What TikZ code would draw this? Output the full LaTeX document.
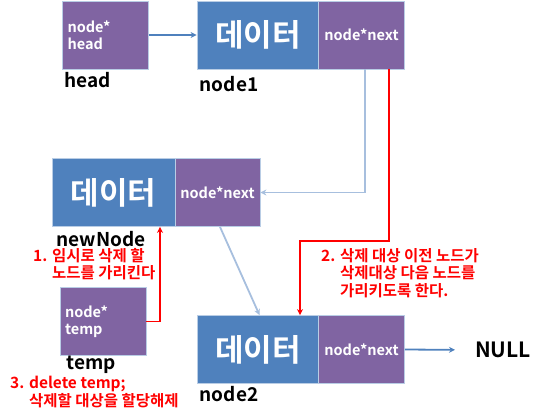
\documentclass[tikz,border=0pt]{standalone}
\usepackage{fontspec}
\setmainfont{Noto Sans CJK KR}[BoldFont={Noto Sans CJK KR Bold}]
\usetikzlibrary{arrows.meta}
\definecolor{dblue}{HTML}{4F81BD}
\definecolor{dpurple}{HTML}{8064A2}
\definecolor{lblue}{HTML}{A7BFDE}
\definecolor{edgec}{HTML}{B9CDE5}
\begin{document}
\begin{tikzpicture}[x=1pt,y=-1pt,
  databox/.style={fill=dblue,draw=edgec,line width=0.8pt,minimum height=68,inner sep=0,
    text=white,font=\bfseries\fontsize{31}{31}\selectfont},
  ptrbox/.style={fill=dpurple,draw=edgec,line width=0.8pt,minimum height=68,inner sep=0,
    text=white,font=\bfseries\fontsize{14.5}{17}\selectfont},
  varbox/.style={ptrbox,minimum width=86,text width=76,align=left},
  lbl/.style={font=\bfseries\fontsize{19}{19}\selectfont,inner sep=0},
  note/.style={text=red,font=\bfseries\fontsize{15.5}{17.5}\selectfont,align=left,inner sep=0,anchor=north west},
  bluearrow/.style={draw=dblue,line width=1.8pt,-{Stealth[length=6pt,width=6pt]}},
  lightline/.style={draw=lblue,line width=1.8pt,-{Stealth[length=6pt,width=6pt]}},
  redline/.style={draw=red,line width=1.8pt,-{Stealth[length=6pt,width=6pt]}}]
\useasboundingbox (0,0) rectangle (550,418);
% head
\node[varbox] (head) at (105.5,35) {node*\\head};
\node[lbl] (headl) at (88,80) {head};
% node1
\node[databox,minimum width=122] (n1d) at (258,35) {데이터};
\node[ptrbox,minimum width=86] (n1n) at (361.5,35) {node*next};
\node[lbl] (n1l) at (229,84) {node1};
% newNode
\node[databox,minimum width=123] (nnd) at (113.5,192.5) {데이터};
\node[ptrbox,minimum width=85] (nnn) at (217.5,192.5) {node*next};
\node[lbl] (nnl) at (101,239) {newNode};
% temp
\node[varbox] (temp) at (103,321.5) {node*\\temp};
\node[lbl] (templ) at (91,365) {temp};
% node2
\node[databox,minimum width=122] (n2d) at (258,349.5) {데이터};
\node[ptrbox,minimum width=86] (n2n) at (361.5,349.5) {node*next};
\node[lbl] (n2l) at (229,394) {node2};
\node[lbl,font=\bfseries\fontsize{21}{21}\selectfont,anchor=west] (null) at (475,350) {NULL};
% notes
\node[note] (t1) at (33,248) {1. 임시로 삭제 할\\\hphantom{1. }노드를 가리킨다};
\node[note] (t2) at (321,248) {2. 삭제 대상 이전 노드가\\\hphantom{2. }삭제대상 다음 노드를\\\hphantom{2. }가리키도록 한다.};
\node[note] (t3) at (10,376) {3. delete temp;\\\hphantom{3. }삭제할 대상을 할당해제};
% connectors
\draw[bluearrow] (head.east) -- (n1d.west);
\draw[lightline] ([xshift=3.5]n1n.south) |- (nnn.east);
\coordinate (r1) at (300,241);
\draw[redline] ([xshift=27.5]n1n.south) |- (r1) -- (r1 |- n2d.north);
\draw[redline] (temp.east) -| ([xshift=46.5]nnd.south);
\draw[lightline] ([xshift=2.5]nnn.south) -- ([xshift=1.5]n2d.north);
\draw[bluearrow,shorten >=20pt] (n2n.east) -- (null.west);
\end{tikzpicture}
\end{document}
